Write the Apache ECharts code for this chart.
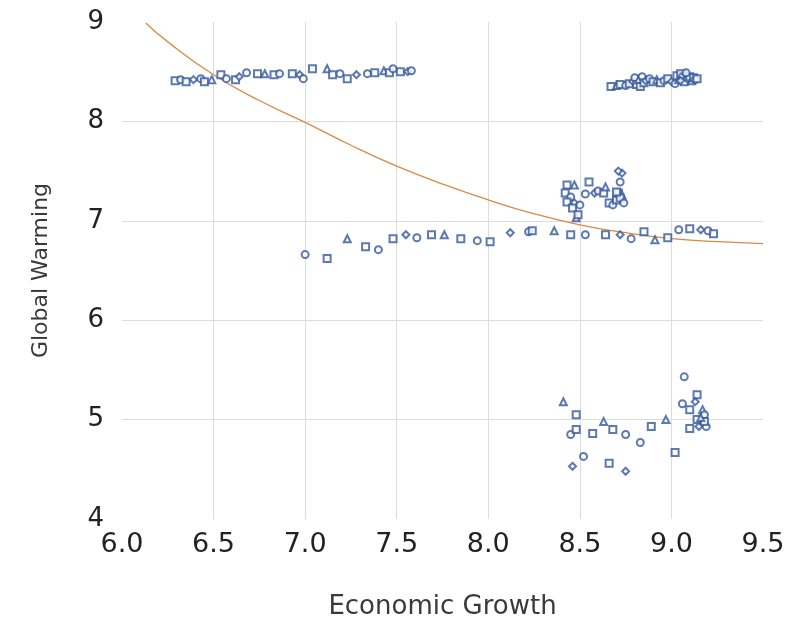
<!DOCTYPE html>
<html>
<head>
<meta charset="utf-8">
<script src="https://cdn.jsdelivr.net/npm/echarts@6/dist/echarts.min.js"></script>
<style>html,body{margin:0;padding:0;background:#fff}#c{width:790px;height:625px}</style>
</head>
<body>
<div id="c"></div>
<script>
// Cluster: upper-left band
var growthA = [6.29,6.32,6.35,6.39,6.43,6.45,6.49,6.54,6.57,6.62,6.64,6.68,6.74,6.78,6.83,6.86,6.93,6.97,6.99,7.04,7.12,7.15,7.19,7.23,7.28,7.34,7.38,7.43,7.46,7.48,7.52,7.56,7.58];
var warmingA = [8.41,8.42,8.40,8.42,8.43,8.40,8.42,8.47,8.43,8.42,8.45,8.49,8.48,8.48,8.47,8.48,8.48,8.47,8.43,8.53,8.53,8.47,8.48,8.43,8.47,8.48,8.49,8.51,8.49,8.53,8.50,8.50,8.51];
// Cluster: upper-right band
var growthB = [8.67,8.70,8.72,8.75,8.77,8.79,8.80,8.81,8.82,8.83,8.84,8.85,8.86,8.88,8.90,8.92,8.94,8.96,8.98,9.00,9.02,9.03,9.04,9.05,9.06,9.07,9.08,9.09,9.10,9.11,9.12,9.13,9.14,9.05,9.08];
var warmingB = [8.35,8.36,8.37,8.36,8.38,8.40,8.44,8.37,8.42,8.35,8.45,8.39,8.41,8.43,8.40,8.42,8.39,8.41,8.43,8.40,8.38,8.46,8.42,8.48,8.45,8.40,8.47,8.43,8.45,8.41,8.44,8.42,8.43,8.41,8.49];
// Cluster: middle group
var growthC = [8.43,8.47,8.42,8.45,8.43,8.47,8.50,8.46,8.48,8.49,8.53,8.55,8.58,8.60,8.63,8.64,8.66,8.68,8.70,8.73,8.72,8.71,8.73,8.72,8.74,8.70,8.71];
var warmingC = [7.36,7.36,7.28,7.24,7.19,7.18,7.16,7.13,7.03,7.06,7.27,7.39,7.28,7.30,7.28,7.34,7.18,7.16,7.21,7.48,7.39,7.28,7.26,7.23,7.18,7.29,7.50];
// Cluster: long middle band
var growthD = [7.00,7.12,7.23,7.33,7.40,7.48,7.55,7.61,7.69,7.76,7.85,7.94,8.01,8.12,8.22,8.24,8.36,8.45,8.53,8.64,8.72,8.78,8.85,8.91,8.98,9.04,9.10,9.16,9.20,9.23];
var warmingD = [6.66,6.62,6.82,6.74,6.71,6.82,6.86,6.83,6.86,6.86,6.82,6.80,6.79,6.88,6.89,6.90,6.90,6.86,6.86,6.86,6.86,6.82,6.89,6.81,6.83,6.91,6.92,6.91,6.90,6.87];
// Cluster: lower group
var growthE = [8.41,8.48,8.45,8.48,8.46,8.52,8.57,8.63,8.68,8.75,8.66,8.75,8.83,8.89,8.97,9.02,9.07,9.14,9.13,9.06,9.10,9.17,9.14,9.18,9.10,9.15,9.19,9.18,9.16];
var warmingE = [5.18,5.05,4.85,4.90,4.53,4.63,4.86,4.98,4.90,4.85,4.56,4.48,4.77,4.93,5.00,4.67,5.43,5.25,5.18,5.16,5.10,5.10,5.00,5.05,4.91,4.93,4.93,4.98,5.02];
// Trend line
var trendX = [6.13,6.25,6.5,6.75,7.0,7.25,7.5,7.75,8.0,8.25,8.5,8.75,9.0,9.25,9.5];
var trendY = [8.99,8.80,8.47,8.21,7.99,7.76,7.55,7.37,7.21,7.07,6.96,6.88,6.82,6.79,6.77];
var xTicks = ['6.0','6.5','7.0','7.5','8.0','8.5','9.0','9.5'];
var yTicks = ['4','5','6','7','8','9'];

function zip(a, b) { return a.map(function (v, i) { return [v, b[i]]; }); }
var pts = [].concat(zip(growthA, warmingA), zip(growthB, warmingB), zip(growthC, warmingC), zip(growthD, warmingD), zip(growthE, warmingE));
var shapes = ['emptyRect', 'emptyCircle', 'emptyRect', 'emptyDiamond', 'emptyCircle', 'emptyRect', 'emptyTriangle'];
var font = 'DejaVu Sans';

var chart = echarts.init(document.getElementById('c'), null, { renderer: 'canvas' });
chart.setOption({
  animation: false,
  backgroundColor: '#ffffff',
  grid: { left: 122, right: 27, top: 22, bottom: 106, containLabel: false },
  xAxis: {
    type: 'value', min: 6, max: 9.5, interval: 0.5,
    name: 'Economic Growth', nameLocation: 'middle', nameGap: 75,
    nameTextStyle: { fontFamily: font, fontSize: 26, color: '#3a3a3a' },
    axisLine: { show: false }, axisTick: { show: false },
    axisLabel: { fontFamily: font, fontSize: 27, color: '#222', margin: 12,
      formatter: function (v) { return xTicks[Math.round((v - 6) / 0.5)]; } },
    splitLine: { show: true, showMinLine: false, showMaxLine: false, lineStyle: { color: '#dcdcdc', width: 1 } }
  },
  yAxis: {
    type: 'value', min: 4, max: 9, interval: 1,
    name: 'Global Warming', nameLocation: 'middle', nameGap: 70, nameRotate: 90,
    nameTextStyle: { fontFamily: font, fontSize: 22, color: '#3a3a3a' },
    axisLine: { show: false }, axisTick: { show: false },
    axisLabel: { fontFamily: font, fontSize: 26, color: '#222', margin: 18,
      formatter: function (v) { return yTicks[Math.round(v - 4)]; } },
    splitLine: { show: true, showMinLine: false, showMaxLine: false, lineStyle: { color: '#dcdcdc', width: 1 } }
  },
  series: [
    {
      type: 'line', data: zip(trendX, trendY), smooth: true, showSymbol: false,
      lineStyle: { color: '#d98a45', width: 1.3 }, z: 1
    },
    {
      type: 'scatter', data: pts, symbolSize: 7,
      symbol: function (v, p) { return shapes[p.dataIndex % shapes.length]; },
      itemStyle: { color: '#34589c', borderColor: '#34589c', borderWidth: 1.5 }, z: 2
    }
  ]
});
</script>
</body>
</html>
